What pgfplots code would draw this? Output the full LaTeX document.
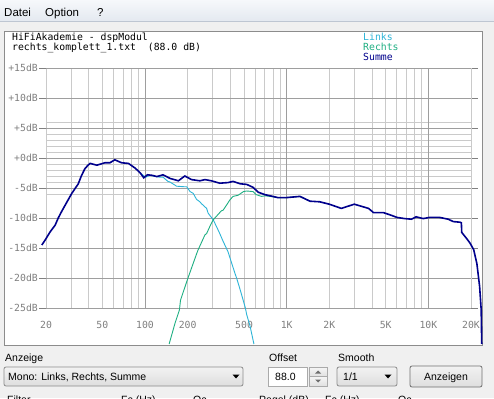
\documentclass[border=0pt]{standalone}
\usepackage{pgfplots}
\pgfplotsset{compat=1.18}
\usepackage{fontspec}
\setmainfont{Liberation Sans}
\newfontfamily\chartfont{DejaVu Sans Mono}
\definecolor{links}{RGB}{45,180,215}
\definecolor{rechts}{RGB}{30,175,130}
\definecolor{summe}{RGB}{0,0,140}
\definecolor{gmin}{RGB}{202,202,202}
\definecolor{gmaj}{RGB}{158,158,158}
\definecolor{lab}{RGB}{128,128,128}
\definecolor{win}{RGB}{240,240,240}
\definecolor{bord}{RGB}{140,140,140}
\definecolor{menutop}{RGB}{246,248,251}
\definecolor{menubot}{RGB}{228,233,240}
\definecolor{menuline}{RGB}{190,198,210}
\definecolor{btntop}{RGB}{242,242,242}
\definecolor{btnbot}{RGB}{222,222,222}
\definecolor{spintop}{RGB}{245,245,245}
\definecolor{spinbot}{RGB}{225,225,225}
\definecolor{boxbord}{RGB}{170,170,170}
\definecolor{arrowg}{RGB}{110,110,110}
\definecolor{btnbord}{RGB}{112,112,112}
\newcommand{\cf}{\chartfont\fontsize{9.8}{10}\selectfont}
\newcommand{\uf}{\fontsize{10.5}{12}\selectfont}
\begin{document}
\begin{tikzpicture}[x=1pt,y=1pt]
\useasboundingbox (-46,-90) rectangle (448,308);
\fill[win] (-46,-90) rectangle (448,308);
% menu bar
\shade[top color=menutop, bottom color=menubot] (-46,287) rectangle (448,308);
\draw[menuline, line width=0.8pt] (-46,287) -- (448,287);
\node[anchor=base west, inner sep=0pt, font=\fontsize{11.5}{13}\selectfont] at (-42,291) {Datei};
\node[anchor=base west, inner sep=0pt, font=\fontsize{11.5}{13}\selectfont] at (-1,291) {Option};
\node[anchor=base west, inner sep=0pt, font=\fontsize{11.5}{13}\selectfont] at (51,291) {?};
% chart frame
\fill[white] (-42,-37) rectangle (436,277);
\draw[bord, line width=0.9pt] (-42,-37) rectangle (436,277);
% titles and legend
\node[anchor=base west, inner sep=0pt, font=\cf] at (-34,267) {HiFiAkademie - dspModul};
\node[anchor=base west, inner sep=0pt, font=\cf] at (-34,257.5) {rechts\_komplett\_1.txt\ \ (88.0 dB)};
\node[anchor=base west, inner sep=0pt, font=\cf, text=links] at (317,267) {Links};
\node[anchor=base west, inner sep=0pt, font=\cf, text=rechts] at (317,257) {Rechts};
\node[anchor=base west, inner sep=0pt, font=\cf, text=summe] at (317,247) {Summe};
\begin{axis}[at={(0,0)}, anchor=south west, scale only axis,
  width=425pt, height=240pt,
  xmode=log, xmin=20, xmax=20000, ymin=-25, ymax=15,
  clip=false, axis line style={draw=none},
  tick align=outside, major tick length=7pt,
  xtick style={draw=none}, ytick style={draw=lab, line width=0.9pt},
  xtick={20,50,100,200,500,1000,2000,5000,10000,20000},
  xticklabels={20,50,100,200,500,1K,2K,5K,10K,20K},
  ytick={-25,-20,-15,-10,-5,0,5,10,15},
  yticklabels={-25dB,-20dB,-15dB,-10dB,-5dB,+0dB,+5dB,+10dB,+15dB},
  minor tick num=0,
  ticklabel style={font=\cf, text=lab},
  yticklabel style={inner sep=1pt},
  xticklabel style={inner sep=0pt, yshift=-6pt},
]
\pgfplotsinvokeforeach{20,30,40,50,60,70,80,90,200,300,400,500,600,700,800,900,2000,3000,4000,5000,6000,7000,8000,9000,20000}{
  \draw[gmin, line width=0.9pt] (axis cs:#1,-25) -- (axis cs:#1,15);}
\pgfplotsinvokeforeach{-6,-4,-3,-2,-1,1,2,3,4,6}{
  \draw[gmin, line width=0.9pt] (axis cs:20,#1) -- (axis cs:20000,#1);}
\pgfplotsinvokeforeach{100,1000,10000}{
  \draw[gmaj, line width=0.9pt] (axis cs:#1,-25) -- (axis cs:#1,15);}
\pgfplotsinvokeforeach{-25,-20,-15,-10,-5,0,5,10,15}{
  \draw[gmaj, line width=0.9pt] (axis cs:20,#1) -- (axis cs:20000,#1);}
% Links
\addplot[links, line width=0.9pt] coordinates {
(92.6,-2.5)(101,-3.2)(108,-2.9)(121,-3.1)(127,-3.2)(134,-3.2)(145,-3.9)(150,-4.0)
(167,-4.7)(191,-4.8)(197,-4.8)(208,-5.6)(219,-5.9)(231,-6.9)(244,-7.3)(250,-7.6)
(272,-8.4)(279,-9.2)(303,-10.3)(328,-12.0)(337,-12.6)(356,-13.9)(385,-15.6)
(431,-19.2)(443,-20.0)(470,-22.0)(511,-25.0)(522,-26.1)(551,-28.0)(587,-31.0)};
% Rechts
\addplot[rechts, line width=0.9pt] coordinates {
(148,-31)(163,-27.5)(175,-25.3)(178,-23.7)(201,-20.0)(231,-16.0)(237,-15.3)
(265,-12.8)(272,-12.6)(287,-11.4)(303,-10.3)(346,-8.8)(356,-8.7)(397,-7.0)
(418,-6.4)(455,-6.2)(495,-5.6)(522,-5.5)(580,-5.6)(608,-6.1)(644,-6.3)(666,-6.4)
(700,-6.3)(764,-6.4)(866,-6.6)(1000,-6.6)(1240,-6.4)(1460,-7.2)};
% Summe
\addplot[summe, line width=1.6pt] coordinates {
(18.7,-14.5)(19.7,-13.7)(21.4,-12.3)(23.2,-11.2)(24.4,-10.0)(25.8,-8.9)(28.0,-7.4)
(30.4,-5.9)(33.8,-4.3)(35.5,-3.0)(37.6,-1.8)(39.6,-1.2)(41,-0.9)(45.7,-1.2)
(52,-0.8)(56.5,-0.8)(61.2,-0.3)(68.4,-0.8)(76.4,-0.9)(85.3,-1.7)(92.6,-2.5)
(98,-3.3)(104,-2.8)(113,-2.9)(121,-3.1)(134,-2.8)(150,-3.4)(172,-3.8)(191,-3.0)
(213,-3.6)(244,-3.8)(265,-3.6)(294,-3.8)(337,-4.2)(385,-4.1)(418,-3.9)(470,-4.3)
(522,-4.4)(580,-4.9)(629,-5.7)(700,-6.1)(764,-6.3)(866,-6.6)(1000,-6.6)(1240,-6.4)
(1460,-7.2)(1710,-7.3)(2000,-7.7)(2430,-8.4)(3000,-7.7)(3780,-8.4)(4100,-9.1)
(4810,-9.1)(5400,-9.5)(6000,-9.9)(6800,-10.1)(7600,-10.2)(8200,-9.8)(9200,-10.1)
(10200,-9.9)(12000,-9.9)(13800,-10.2)(15000,-10.6)(16700,-10.7)(17100,-10.8)
(17200,-12.4)(18600,-13.4)(19700,-14.2)(20900,-15.3)(22000,-17.6)(23000,-21.4)
(23600,-25.3)(23800,-31)};
\end{axis}
% bottom controls
\node[anchor=base west, inner sep=0pt, font=\uf] at (-41,-53) {Anzeige};
\node[anchor=base west, inner sep=0pt, font=\uf] at (223,-53) {Offset};
\node[anchor=base west, inner sep=0pt, font=\uf] at (292,-53) {Smooth};
\shade[top color=btntop, bottom color=btnbot, rounded corners=2pt] (-42,-78) rectangle (197,-59);
\draw[bord, rounded corners=2pt, line width=0.8pt] (-42,-78) rectangle (197,-59);
\node[anchor=base west, inner sep=0pt, font=\uf] at (-38,-72.5) {Mono: Links, Rechts, Summe};
\fill[black] (186.5,-66.5) -- (193.5,-66.5) -- (190,-70.5) -- cycle;
\fill[white] (222,-78) rectangle (261,-59);
\draw[boxbord, line width=0.8pt] (222,-78) rectangle (261,-59);
\node[anchor=base west, inner sep=0pt, font=\uf] at (229,-72.5) {88.0};
\shade[top color=spintop, bottom color=spinbot] (263,-68.5) rectangle (281,-59);
\shade[top color=spintop, bottom color=spinbot] (263,-78) rectangle (281,-68.5);
\draw[boxbord, line width=0.7pt] (263,-78) rectangle (281,-59) (263,-68.5) -- (281,-68.5);
\fill[arrowg] (269,-65.5) -- (275,-65.5) -- (272,-62.5) -- cycle;
\fill[arrowg] (269,-71.5) -- (275,-71.5) -- (272,-74.5) -- cycle;
\shade[top color=btntop, bottom color=btnbot, rounded corners=2pt] (291,-78) rectangle (351,-59);
\draw[bord, rounded corners=2pt, line width=0.8pt] (291,-78) rectangle (351,-59);
\node[anchor=base west, inner sep=0pt, font=\uf] at (297,-72.5) {1/1};
\fill[black] (338.5,-66.5) -- (345.5,-66.5) -- (342,-70.5) -- cycle;
\shade[top color=btntop, bottom color=btnbot, rounded corners=2pt] (364,-79) rectangle (436,-58);
\draw[btnbord, rounded corners=2pt, line width=0.8pt] (364,-79) rectangle (436,-58);
\node[anchor=base, inner sep=0pt, font=\uf] at (400,-72.5) {Anzeigen};
\begin{scope}
\clip (-46,-90) rectangle (448,308);
\node[anchor=base west, inner sep=0pt, font=\uf] at (-39,-95) {Filter};
\node[anchor=base west, inner sep=0pt, font=\uf] at (75,-95) {Fc (Hz)};
\node[anchor=base west, inner sep=0pt, font=\uf] at (147,-95) {Qc};
\node[anchor=base west, inner sep=0pt, font=\uf] at (213,-95) {Pegel (dB)};
\node[anchor=base west, inner sep=0pt, font=\uf] at (279,-95) {Fc (Hz)};
\node[anchor=base west, inner sep=0pt, font=\uf] at (352,-95) {Qc};
\end{scope}
\end{tikzpicture}
\end{document}
